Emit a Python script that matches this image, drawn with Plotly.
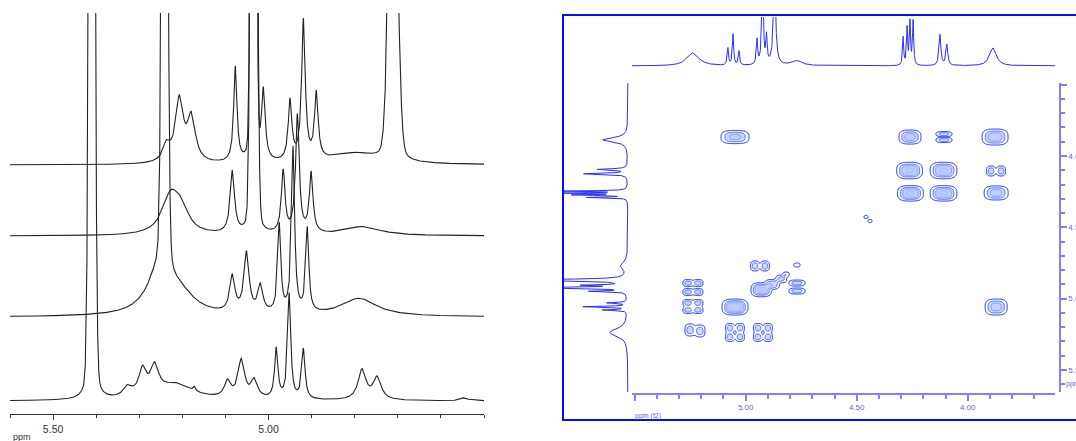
import numpy as np
import plotly.graph_objects as go

W, H = 1076, 441


def fx(px):
    return px / W


def fy(py):
    return 1 - py / H


# ---------------- stacked 1H spectra (left panel) ----------------
# peak tables: shift (ppm), height, half-width (ppm), Lorentzian fraction
offset_a = 249
shift_a = [5.237, 5.207, 5.179, 5.077, 5.035, 5.012, 4.950, 4.919, 4.889, 4.800, 4.711]
height_a = [16, 62, 44, 95, 1500, 70, 60, 140, 66, 11, 420]
hw_a = [0.010, 0.011, 0.011, 0.0045, 0.005, 0.005, 0.005, 0.005, 0.005, 0.07, 0.011]
lor_a = [1, 1, 1, 1, 0.08, 1, 1, 1, 1, 1, 0.15]

offset_b = 178
shift_b = [5.227, 5.202, 5.084, 5.034, 4.966, 4.933, 4.901, 4.782]
height_b = [38, 20, 62, 1500, 62, 118, 60, 9]
hw_b = [0.024, 0.020, 0.006, 0.006, 0.005, 0.005, 0.005, 0.05]
lor_b = [1, 1, 1, 0.08, 1, 1, 1, 1]

offset_c = 97
shift_c = [5.250, 5.200, 5.241, 5.084, 5.051, 5.019, 4.975, 4.943, 4.910, 4.790]
height_c = [48, 14, 1200, 36, 60, 27, 88, 165, 84, 18]
hw_c = [0.035, 0.040, 0.006, 0.007, 0.007, 0.007, 0.0042, 0.0042, 0.0042, 0.05]
lor_c = [1, 1, 0.1, 1, 1, 1, 1, 1, 1, 1]

offset_d = 13
shift_d = [5.410, 5.327, 5.292, 5.264, 5.215, 5.172, 5.095, 5.063, 5.033,
           4.982, 4.952, 4.919, 4.783, 4.748, 4.545]
height_d = [1500, 10, 26, 27, 16, 4, 16, 38, 18, 50, 105, 50, 30, 22, 3]
hw_d = [0.006, 0.012, 0.011, 0.011, 0.05, 0.003, 0.009, 0.009, 0.009,
        0.0045, 0.0042, 0.0045, 0.011, 0.011, 0.01]
lor_d = [0.1, 1, 1, 1, 1, 1, 1, 1, 1, 1, 1, 1, 1, 1, 1]

left_ticks = [5.50, 5.00]
left_ticktext = ["5.50", "5.00"]
left_minor = [5.6, 5.4, 5.3, 5.2, 5.1, 4.9, 4.8, 4.7, 4.6, 4.5]

# ---------------- 2D map (right panel) ----------------
# 1D projection peaks: shift (ppm), height, half-width (ppm)
proj_shift = [5.237, 5.080, 5.057, 5.030, 4.949, 4.924, 4.906, 4.870, 4.769,
              4.291, 4.273, 4.260, 4.246, 4.125, 4.094, 3.886]
proj_height = [13, 17, 31, 14, 25, 90, 27, 90, 5, 28, 37, 43, 44, 31, 21, 18]
proj_hw = [0.032, 0.0035, 0.0035, 0.0035, 0.0035, 0.004, 0.0035, 0.006, 0.03,
           0.003, 0.003, 0.003, 0.003, 0.005, 0.005, 0.018]
side_gain = 1.4

# cross-peak components: F2, F1 (ppm), amplitude,
# half extent of the outermost contour along F2 and F1 (ppm)
cp_f2 = [5.048, 4.958, 4.913, 4.769, 4.930, 4.880, 4.840, 4.818, 4.769, 4.769,
         5.260, 5.215, 5.260, 5.215, 5.260, 5.215, 5.260, 5.215,
         5.048, 5.251, 5.206,
         5.071, 5.026, 5.071, 5.026, 4.945, 4.900, 4.945, 4.900,
         4.260, 4.107, 4.107, 3.877, 4.262, 4.109, 3.895, 3.850,
         4.258, 4.109, 3.872, 4.458, 4.440, 3.872]
cp_f1 = [3.867, 4.771, 4.771, 4.764, 4.938, 4.900, 4.862, 4.830, 4.891, 4.947,
         4.891, 4.891, 4.954, 4.954, 5.031, 5.031, 5.080, 5.080,
         5.059, 5.220, 5.227,
         5.206, 5.206, 5.269, 5.269, 5.206, 5.206, 5.269, 5.269,
         3.867, 3.846, 3.888, 3.867, 4.102, 4.102, 4.105, 4.105,
         4.262, 4.262, 4.259, 4.428, 4.456, 5.059]
cp_amp = [1.2, 0.9, 0.9, 0.6, 1.6, 1.0, 0.8, 0.6, 0.9, 0.9,
          0.9, 0.9, 0.9, 0.9, 0.9, 0.9, 0.9, 0.9,
          1.8, 0.9, 0.9,
          0.9, 0.9, 0.9, 0.9, 0.9, 0.9, 0.9, 0.9,
          1.3, 0.9, 0.9, 1.4, 1.6, 1.6, 0.9, 0.9,
          1.6, 1.6, 1.3, 0.5, 0.5, 1.3]
cp_ext2 = [0.063, 0.020, 0.020, 0.0135, 0.046, 0.032, 0.024, 0.014, 0.036, 0.036,
           0.0225, 0.0225, 0.0225, 0.0225, 0.0225, 0.0225, 0.0225, 0.0225,
           0.0585, 0.0225, 0.0225,
           0.020, 0.020, 0.020, 0.020, 0.020, 0.020, 0.020, 0.020,
           0.0495, 0.036, 0.036, 0.0585, 0.058, 0.060, 0.020, 0.020,
           0.058, 0.060, 0.054, 0.009, 0.009, 0.0495]
cp_ext1 = [0.046, 0.035, 0.035, 0.014, 0.049, 0.034, 0.026, 0.016, 0.021, 0.021,
           0.0245, 0.0245, 0.0245, 0.0245, 0.0245, 0.0245, 0.0245, 0.0245,
           0.056, 0.042, 0.042,
           0.0315, 0.0315, 0.0315, 0.0315, 0.0315, 0.0315, 0.0315, 0.0315,
           0.049, 0.0175, 0.0175, 0.056, 0.058, 0.058, 0.035, 0.035,
           0.054, 0.054, 0.049, 0.0105, 0.0105, 0.056]

f2_ticks = [5.5, 5.0, 4.5, 4.0]
f2_ticktext = ["", "5.00", "4.50", "4.00"]
f1_ticks = [3.5, 4.0, 4.5, 5.0, 5.5]
f1_ticktext = ["", "4.00", "4.50", "5.00", "5.50"]

F2_RANGE = [5.512, 3.607]
F1_RANGE = [5.655, 3.488]
LOWEST_LEVEL = 0.25
SQUARENESS = 3.0


def lineshape(ppm, shifts, heights, widths, lfrac=None):
    out = np.zeros_like(ppm)
    if lfrac is None:
        lfrac = [1.0] * len(shifts)
    for c, h, w, eta in zip(shifts, heights, widths, lfrac):
        d2 = ((ppm - c) / w) ** 2
        out += h * (eta / (1 + d2) + (1 - eta) * np.exp(-np.log(2) * d2))
    return out


fig = go.Figure()

# left stacked spectra
ppm_left = np.linspace(4.50, 5.60, 6000)
for off, s, h, w, l in [
    (offset_a, shift_a, height_a, hw_a, lor_a),
    (offset_b, shift_b, height_b, hw_b, lor_b),
    (offset_c, shift_c, height_c, hw_c, lor_c),
    (offset_d, shift_d, height_d, hw_d, lor_d),
]:
    fig.add_trace(go.Scatter(
        x=ppm_left, y=off + lineshape(ppm_left, s, h, w, l),
        mode="lines", line=dict(color="#222222", width=1.1),
        xaxis="x", yaxis="y", hoverinfo="skip", showlegend=False))

# 2D contour map: flat-topped, rounded-rectangle peak profile
f2 = np.linspace(F2_RANGE[1], F2_RANGE[0], 560)
f1 = np.linspace(F1_RANGE[1], F1_RANGE[0], 420)
G2, G1 = np.meshgrid(f2, f1)
z = np.zeros_like(G2)
for a, b, amp, e2, e1 in zip(cp_f2, cp_f1, cp_amp, cp_ext2, cp_ext1):
    qe = (2 * np.log(amp / LOWEST_LEVEL)) ** (1 / 3)
    u = np.abs(G2 - a) / (e2 / qe)
    v = np.abs(G1 - b) / (e1 / qe)
    q = (u ** SQUARENESS + v ** SQUARENESS) ** (1 / SQUARENESS)
    z += amp * np.exp(-0.5 * q ** 3)
z = z.astype(np.float32)

levels = dict(start=LOWEST_LEVEL, end=2.5, size=0.42)
fig.add_trace(go.Contour(
    x=f2, y=f1, z=z, xaxis="x2", yaxis="y2",
    contours=dict(coloring="fill", showlines=False, **levels),
    colorscale=[[0, "rgba(255,255,255,0)"], [0.1, "rgba(255,255,255,0)"],
                [0.11, "#d3ddff"], [0.5, "#c3d0ff"], [1, "#b0c1ff"]],
    zmin=0, zmax=2.5, line=dict(width=0),
    showscale=False, hoverinfo="skip"))
fig.add_trace(go.Contour(
    x=f2, y=f1, z=z, xaxis="x2", yaxis="y2",
    contours=dict(coloring="lines", **levels),
    colorscale=[[0, "#1432ff"], [0.5, "#6d88ff"], [1, "#a9baff"]],
    zmin=0.25, zmax=1.6, line=dict(width=1),
    showscale=False, hoverinfo="skip"))

# top projection
ppm_proj = np.linspace(3.55, 5.56, 5000)
fig.add_trace(go.Scatter(
    x=ppm_proj, y=lineshape(ppm_proj, proj_shift, proj_height, proj_hw),
    mode="lines", line=dict(color="#2b2bff", width=1),
    xaxis="x2", yaxis="y3", hoverinfo="skip", showlegend=False))

# side projection
ppm_side = np.linspace(3.45, 5.70, 5000)
fig.add_trace(go.Scatter(
    x=side_gain * lineshape(ppm_side, proj_shift, proj_height, proj_hw), y=ppm_side,
    mode="lines", line=dict(color="#2b2bff", width=1),
    xaxis="x4", yaxis="y2", hoverinfo="skip", showlegend=False))

blue_axis = "#8080ff"
blue_text = "#5f5fff"

fig.update_layout(
    width=W, height=H, margin=dict(l=0, r=0, t=0, b=0),
    paper_bgcolor="white", plot_bgcolor="rgba(0,0,0,0)",
    template="none", showlegend=False,
    font=dict(family="Liberation Sans, Arial, sans-serif"),
    xaxis=dict(
        domain=[fx(10), fx(484)], range=[5.60, 4.50], anchor="y",
        showline=True, linecolor="#333333", linewidth=1,
        tickmode="array", tickvals=left_ticks, ticktext=left_ticktext,
        ticks="outside", ticklen=5, tickwidth=1, tickcolor="#333333",
        minor=dict(tickmode="array", tickvals=left_minor, ticks="outside",
                   ticklen=3, tickwidth=1, tickcolor="#333333"),
        tickfont=dict(size=10.5, color="#333333"),
        showgrid=False, zeroline=False, automargin=False),
    yaxis=dict(domain=[fy(414), fy(13)], range=[0, 401], visible=False,
               automargin=False),
    xaxis2=dict(
        domain=[fx(632), fx(1055)], range=F2_RANGE, anchor="free",
        position=fy(394),
        showline=True, linecolor=blue_axis, linewidth=1.5,
        tickmode="array", tickvals=f2_ticks, ticktext=f2_ticktext,
        ticks="outside", ticklen=6, tickwidth=1.5, tickcolor=blue_axis,
        minor=dict(dtick=0.1, tick0=4.0, ticks="outside", ticklen=4,
                   tickwidth=1.5, tickcolor=blue_axis),
        tickfont=dict(size=8, color=blue_text),
        showgrid=False, zeroline=False, automargin=False),
    yaxis2=dict(
        domain=[fy(392), fy(83)], range=F1_RANGE, anchor="free",
        position=fx(1060), side="right",
        showline=True, linecolor=blue_axis, linewidth=1.5,
        tickmode="array", tickvals=f1_ticks, ticktext=f1_ticktext,
        ticks="outside", ticklen=6, tickwidth=1.5, tickcolor=blue_axis,
        minor=dict(dtick=0.1, tick0=4.0, ticks="outside", ticklen=4,
                   tickwidth=1.5, tickcolor=blue_axis),
        tickfont=dict(size=8, color=blue_text),
        showgrid=False, zeroline=False, automargin=False),
    yaxis3=dict(domain=[fy(69), fy(17)], range=[-3, 49], visible=False,
                anchor="x2", automargin=False),
    xaxis4=dict(domain=[fx(564), fx(631)], range=[64, -3], visible=False,
                anchor="y2", automargin=False),
    shapes=[dict(type="rect", xref="paper", yref="paper",
                 x0=fx(563), x1=fx(1090), y0=fy(420), y1=fy(15),
                 line=dict(color="#0a0aff", width=2), layer="above")],
    annotations=[
        dict(text="ppm", xref="paper", yref="paper", x=fx(11), y=fy(436.5),
             xanchor="left", yanchor="middle", showarrow=False,
             font=dict(size=9, color="#333333")),
        dict(text="ppm (t2)", xref="paper", yref="paper", x=fx(633), y=fy(416),
             xanchor="left", yanchor="middle", showarrow=False,
             font=dict(size=7, color=blue_text)),
        dict(text="ppm (t1)", xref="paper", yref="paper", x=fx(1064), y=fy(384),
             xanchor="left", yanchor="middle", showarrow=False,
             font=dict(size=7, color=blue_text)),
    ],
)

fig.write_html("out.html")
